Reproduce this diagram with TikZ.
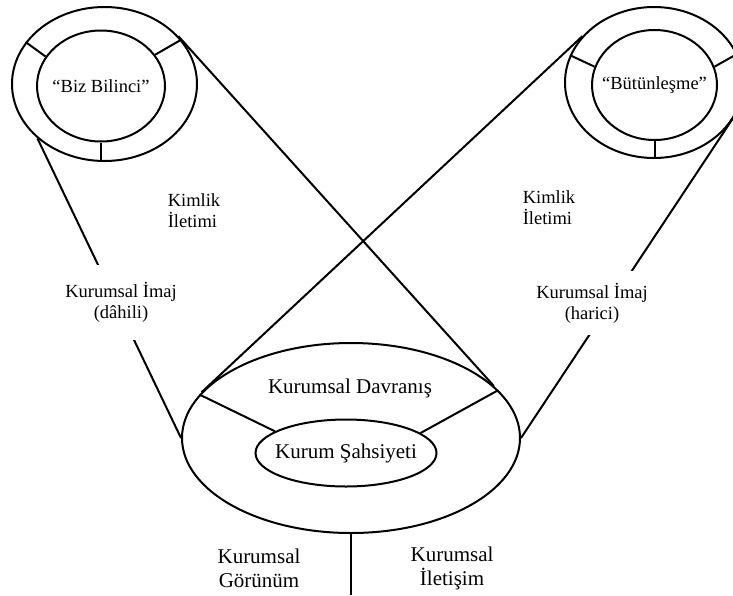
\documentclass[tikz,border=0pt]{standalone}
\usepackage{fontspec}
\setmainfont{Liberation Serif}
\usetikzlibrary{shapes.geometric}
\tikzset{
  ring/.style={ellipse, draw, inner sep=0pt},
  small/.style={font=\fontsize{18.5}{21}\selectfont, align=center},
  large/.style={font=\fontsize{21}{24}\selectfont, align=center},
  cover/.style={small, fill=white, inner xsep=3pt, inner ysep=0pt}
}
\begin{document}
\begin{tikzpicture}[x=1pt, y=-1pt, line width=2pt]
            \useasboundingbox (0,0) rectangle (733,595);
            \clip (0,0) rectangle (733,595);
            \node[ring, minimum width=185, minimum height=154] (bizDis) at (104.5,84) {};
            \node[ring, minimum width=128, minimum height=111, label={[small]center:“Biz Bilinci”}] (bizIc) at (101,86) {};
            \node[ring, minimum width=178, minimum height=151] (butDis) at (654,82.5) {};
            \node[ring, minimum width=125, minimum height=110, label={[small]center:“Bütünleşme”}] (butIc) at (654.5,85) {};
            \node[ring, minimum width=338, minimum height=190] (kurDis) at (351,438) {};
            \node[ring, minimum width=181, minimum height=67, label={[large]center:Kurum Şahsiyeti}] (kurIc) at (346,453) {};
            \coordinate (altUc) at (351,595);
            \foreach \a/\b in {152/152,30/30} \draw (bizDis.\a) -- (bizIc.\b);
            \foreach \a/\b in {162/163,19/17} \draw (butDis.\a) -- (butIc.\b);
            \foreach \a/\b in {164/163,18/15} \draw (kurDis.\a) -- (kurIc.\b);
            \draw (bizIc.south) -- (bizIc.south |- bizDis.south);
            \draw (butIc.south) -- (butIc.south |- butDis.south);
            \draw (kurDis.south) -- (altUc);
            \draw (bizDis.33) -- (kurDis.20);
            \draw (butDis.147) -- (kurDis.163);
            \draw (bizDis.219) -- (kurDis.180);
            \draw (butDis.-20) -- (kurDis.0);
            \node[cover, minimum height=75] (imajDa) at (121,302) {Kurumsal İmaj\\(dâhili)};
            \node[cover, minimum height=64] (imajHa) at (592,303) {Kurumsal İmaj\\(harici)};
            \node[small, align=left] (kimSol) at (194,211) {Kimlik\\İletimi};
            \node[small, align=left] (kimSag) at (549,208) {Kimlik\\İletimi};
            \node[large] (davranis) at (350,388) {Kurumsal Davranış};
            \node[large] (gorunum) at (259,568) {Kurumsal\\Görünüm};
            \node[large] (iletisim) at (452,568) {Kurumsal\\İletişim};
        \end{tikzpicture}
\end{document}
